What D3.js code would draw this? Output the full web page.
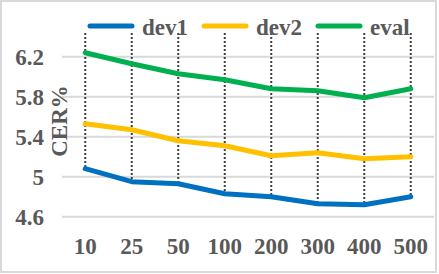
<!DOCTYPE html>
<html><head><meta charset="utf-8">
<script src="https://cdn.jsdelivr.net/npm/d3@7"></script>
<style>html,body{margin:0;padding:0;background:#fff;}</style>
</head><body>
<script>
const categories = ["10","25","50","100","200","300","400","500"];
const dev1 = [5.08,4.95,4.93,4.83,4.80,4.73,4.72,4.80];
const dev2 = [5.53,5.47,5.36,5.31,5.21,5.24,5.18,5.20];
const evalS = [6.24,6.13,6.03,5.97,5.88,5.86,5.79,5.88];
const yTicks = [4.6,5,5.4,5.8,6.2];
const seriesNames = ["dev1","dev2","eval"];
const seriesColors = ["#0070C0","#FFC000","#00B050"];
const seriesData = [dev1, dev2, evalS];

const W=439,H=274;
const svg=d3.select("body").append("svg").attr("width",W).attr("height",H);
svg.append("rect").attr("x",1).attr("y",1).attr("width",W-4).attr("height",H-3)
  .attr("fill","#fff").attr("stroke","#d9d9d9").attr("stroke-width",2);

const left=62,right=434;
const x=d3.scaleBand().domain(categories).range([left,right]);
const y=d3.scaleLinear().domain([4.6,6.2]).range([216.7,56.7]);
const font="'Liberation Serif','Times New Roman',serif";
const txt="#595959";

// gridlines
svg.append("g").selectAll("line").data(yTicks).join("line")
  .attr("x1",left).attr("x2",right).attr("y1",d=>y(d)).attr("y2",d=>y(d))
  .attr("stroke","#d9d9d9").attr("stroke-width",2);

// y axis labels
const yAxis=d3.axisLeft(y).tickValues(yTicks).tickFormat(d=>String(d)).tickSize(0).tickPadding(0);
const gy=svg.append("g").attr("transform",`translate(44,0)`).call(yAxis);
gy.select(".domain").remove();
gy.selectAll("text").attr("font-family",font).attr("font-weight","bold").attr("font-size",23).attr("fill",txt).attr("dy","0.34em");

// x axis labels
const xAxis=d3.axisBottom(x).tickSize(0).tickPadding(0);
const gx=svg.append("g").attr("transform",`translate(0,238)`).call(xAxis);
gx.select(".domain").remove();
gx.selectAll("text").attr("font-family",font).attr("font-weight","bold").attr("font-size",23).attr("fill",txt).attr("dy","0.71em");

// y title
svg.append("text").attr("transform",`translate(67,121) rotate(-90)`)
  .attr("text-anchor","middle").attr("font-family",font).attr("font-weight","bold")
  .attr("font-size",23).attr("fill",txt).text("CER%");

// drop lines
const cx=d=>x(d)+x.bandwidth()/2;
svg.append("g").selectAll("line").data(categories).join("line")
  .attr("x1",cx).attr("x2",cx).attr("y1",33)
  .attr("y2",(d,i)=>y(Math.min(dev1[i],dev2[i],evalS[i])))
  .attr("stroke","#404040").attr("stroke-width",2).attr("stroke-dasharray","2,2");

// series lines
const line=d3.line().x((d,i)=>cx(categories[i])).y(d=>y(d));
seriesData.forEach((s,k)=>{
  svg.append("path").datum(s).attr("d",line).attr("fill","none")
    .attr("stroke",seriesColors[k]).attr("stroke-width",5).attr("stroke-linejoin","round").attr("stroke-linecap","round");
});

// legend
const legX=[90,204,318];
seriesNames.forEach((n,k)=>{
  const g=svg.append("g").attr("transform",`translate(${legX[k]},26)`);
  g.append("line").attr("x1",0).attr("x2",42).attr("y1",0).attr("y2",0)
    .attr("stroke",seriesColors[k]).attr("stroke-width",5).attr("stroke-linecap","round");
  g.append("text").attr("x",52).attr("y",9).attr("font-family",font).attr("font-weight","bold")
    .attr("font-size",23).attr("fill",txt).text(n);
});
</script>
</body></html>
